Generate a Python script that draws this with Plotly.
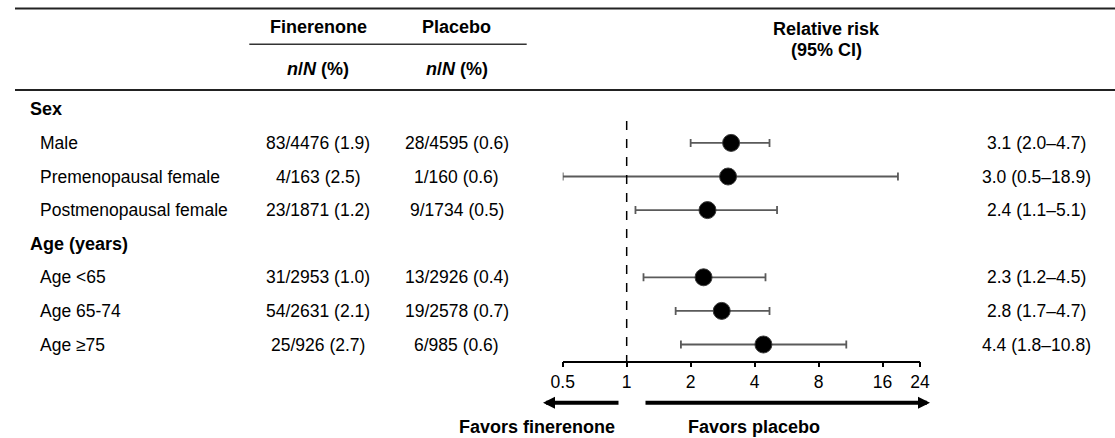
import math
import plotly.graph_objects as go

W, H = 1115, 438
FONT = "Liberation Sans, Arial, sans-serif"

# ---- data ----
groups = ["Sex", "Age (years)"]
subgroups = [
    ["Male", "Premenopausal female", "Postmenopausal female"],
    ["Age <65", "Age 65-74", "Age \u226575"],
]
fin_n = [83, 4, 23, 31, 54, 25]
fin_N = [4476, 163, 1871, 2953, 2631, 926]
fin_pct = [1.9, 2.5, 1.2, 1.0, 2.1, 2.7]
pla_n = [28, 1, 9, 13, 19, 6]
pla_N = [4595, 160, 1734, 2926, 2578, 985]
pla_pct = [0.6, 0.6, 0.5, 0.4, 0.7, 0.6]
rr = [3.1, 3.0, 2.4, 2.3, 2.8, 4.4]
rr_lo = [2.0, 0.5, 1.1, 1.2, 1.7, 1.8]
rr_hi = [4.7, 18.9, 5.1, 4.5, 4.7, 10.8]
tick_vals = [0.5, 1, 2, 4, 8, 16, 24]
tick_text = ["0.5", "1", "2", "4", "8", "16", "24"]

# ---- layout helpers (pixel -> paper) ----
def px(x):
    return x / W

def py(y):
    return 1 - y / H

ROW0 = 109.3
STEP = 33.6
AXIS_Y = 361.7
FS = 17.5
FSB = 18

# row order: group header then its subgroups
row_y_group = []
row_y_sub = []
i = 0
for g, subs in zip(groups, subgroups):
    row_y_group.append(ROW0 + i * STEP)
    i += 1
    for s in subs:
        row_y_sub.append(ROW0 + i * STEP)
        i += 1

labels_sub = [s for subs in subgroups for s in subs]

fig = go.Figure()

fig.add_trace(go.Scatter(
    x=rr,
    y=row_y_sub,
    mode="markers",
    marker=dict(size=17, color="#000000", line=dict(color="#3a3a3a", width=1)),
    error_x=dict(
        type="data",
        symmetric=False,
        array=[h - r for h, r in zip(rr_hi, rr)],
        arrayminus=[r - l for r, l in zip(rr, rr_lo)],
        color="#5a5a5a",
        thickness=1.8,
        width=4,
    ),
    hoverinfo="skip",
    showlegend=False,
))

annotations = []

def text(x, y, s, size=FS, bold=False, anchor="center"):
    annotations.append(dict(
        x=px(x), y=py(y), xref="paper", yref="paper",
        text=f"<b>{s}</b>" if bold else s,
        showarrow=False, xanchor=anchor, yanchor="middle",
        font=dict(family=FONT, size=size, color="#000000"),
    ))

# column headers
text(318, 27.3, "Finerenone", FSB, bold=True)
text(456.5, 27.3, "Placebo", FSB, bold=True)
text(318, 69.3, "<i>n</i>/<i>N</i> (%)", FSB, bold=True)
text(457, 69.3, "<i>n</i>/<i>N</i> (%)", FSB, bold=True)
text(826, 28.5, "Relative risk", FSB, bold=True)
text(826, 50, "(95% CI)", FSB, bold=True)

# group headers
for g, y in zip(groups, row_y_group):
    text(27.5, y, g, FSB, bold=True, anchor="left")

# subgroup rows
for k, y in enumerate(row_y_sub):
    text(37.5, y, labels_sub[k], anchor="left")
    text(318, y, f"{fin_n[k]}/{fin_N[k]} ({fin_pct[k]:.1f})")
    text(457, y, f"{pla_n[k]}/{pla_N[k]} ({pla_pct[k]:.1f})")
    text(1036, y, f"{rr[k]:.1f} ({rr_lo[k]:.1f}\u2013{rr_hi[k]:.1f})")

# direction arrows and captions
arrow_y = 402.7
annotations.append(dict(
    x=px(543), y=py(arrow_y), xref="paper", yref="paper",
    ax=77, ay=0, text="", showarrow=True,
    arrowhead=2, arrowwidth=4, arrowsize=0.6, arrowcolor="#000000",
))
annotations.append(dict(
    x=px(930), y=py(arrow_y), xref="paper", yref="paper",
    ax=-286, ay=0, text="", showarrow=True,
    arrowhead=2, arrowwidth=4, arrowsize=0.6, arrowcolor="#000000",
))
text(536.5, 426.7, "Favors finerenone", FSB, bold=True)
text(753.5, 426.7, "Favors placebo", FSB, bold=True)

shapes = [
    # header rules
    dict(type="line", xref="paper", yref="paper", x0=px(15), x1=1.0,
         y0=py(8.5), y1=py(8.5), line=dict(color="#222222", width=2)),
    dict(type="line", xref="paper", yref="paper", x0=px(249.3), x1=px(526.7),
         y0=py(44.3), y1=py(44.3), line=dict(color="#333333", width=1.6)),
    dict(type="line", xref="paper", yref="paper", x0=px(15), x1=1.0,
         y0=py(90), y1=py(90), line=dict(color="#222222", width=2)),
    # line of no effect
    dict(type="line", xref="x", yref="y", x0=1, x1=1,
         y0=121, y1=AXIS_Y, line=dict(color="#000000", width=1.5, dash="dash")),
]

x_left, x_right = 562.7, 920.0
fig.update_layout(
    width=W, height=H, autosize=False,
    margin=dict(l=0, r=0, t=0, b=0, pad=0, autoexpand=False),
    paper_bgcolor="white", plot_bgcolor="white",
    showlegend=False,
    annotations=annotations,
    shapes=shapes,
    xaxis=dict(
        type="log",
        domain=[px(x_left), px(x_right)],
        range=[math.log10(0.5), math.log10(24)],
        tickvals=tick_vals, ticktext=tick_text,
        showgrid=False, zeroline=False, automargin=False,
        showline=True, linecolor="#000000", linewidth=1.5,
        ticks="outside", ticklen=5, tickwidth=1.5, tickcolor="#000000",
        tickfont=dict(family=FONT, size=FS, color="#000000"),
        anchor="free", position=py(AXIS_Y),
        fixedrange=True,
    ),
    yaxis=dict(
        range=[H, 0], domain=[0, 1], automargin=False,
        visible=False, showgrid=False, zeroline=False, fixedrange=True,
    ),
)

fig.write_html(
    "out.html",
    config={"displayModeBar": False},
    post_script="document.body.style.margin='0';",
)
